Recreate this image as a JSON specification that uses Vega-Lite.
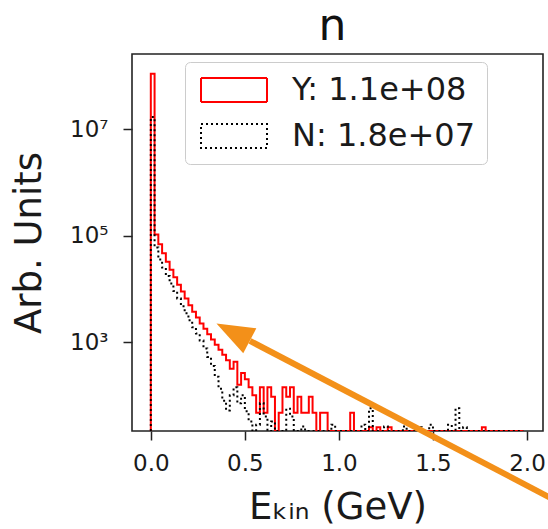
{
"$schema": "https://vega.github.io/schema/vega-lite/v6.json",
"width": 411, "height": 377,
"autosize": {"type": "none"},
"padding": {"left": 132, "top": 54, "right": 5, "bottom": 98},
"background": "white",
"config": {"view": {"stroke": "#222222", "strokeWidth": 1.6}, "font": "DejaVu Sans"},
"title": {"text": "n", "fontSize": 44, "font": "DejaVu Sans", "fontWeight": "normal", "color": "#111111", "baseline": "bottom", "offset": -39, "dx": -5},
"datasets": {
"hist": [
{"s":"Y","e":0,"v":0},{"s":"Y","e":0,"v":110000000},{"s":"Y","e":0.02,"v":105000},{"s":"Y","e":0.04,"v":69000},{"s":"Y","e":0.06,"v":46800},{"s":"Y","e":0.08,"v":32400},{"s":"Y","e":0.1,"v":22900},{"s":"Y","e":0.12,"v":16600},{"s":"Y","e":0.14,"v":12000},{"s":"Y","e":0.16,"v":8900},{"s":"Y","e":0.18,"v":6600},{"s":"Y","e":0.2,"v":4900},{"s":"Y","e":0.22,"v":3700},{"s":"Y","e":0.24,"v":2900},{"s":"Y","e":0.26,"v":2240},{"s":"Y","e":0.28,"v":1780},{"s":"Y","e":0.3,"v":1410},{"s":"Y","e":0.32,"v":1120},{"s":"Y","e":0.34,"v":890},{"s":"Y","e":0.36,"v":720},{"s":"Y","e":0.38,"v":575},{"s":"Y","e":0.4,"v":457},{"s":"Y","e":0.42,"v":316},{"s":"Y","e":0.44,"v":427},{"s":"Y","e":0.46,"v":158},{"s":"Y","e":0.48,"v":263},{"s":"Y","e":0.5,"v":200},{"s":"Y","e":0.52,"v":141},{"s":"Y","e":0.54,"v":100},{"s":"Y","e":0.56,"v":47},{"s":"Y","e":0.58,"v":141},{"s":"Y","e":0.6,"v":47},{"s":"Y","e":0.62,"v":141},{"s":"Y","e":0.64,"v":94},{"s":"Y","e":0.66,"v":0},{"s":"Y","e":0.68,"v":47},{"s":"Y","e":0.7,"v":141},{"s":"Y","e":0.72,"v":94},{"s":"Y","e":0.74,"v":141},{"s":"Y","e":0.76,"v":47},{"s":"Y","e":0.78,"v":94},{"s":"Y","e":0.8,"v":47},{"s":"Y","e":0.82,"v":47},{"s":"Y","e":0.84,"v":94},{"s":"Y","e":0.86,"v":47},{"s":"Y","e":0.88,"v":0},{"s":"Y","e":0.9,"v":47},{"s":"Y","e":0.92,"v":47},{"s":"Y","e":0.94,"v":0},{"s":"Y","e":0.96,"v":0},{"s":"Y","e":0.98,"v":0},{"s":"Y","e":1.0,"v":0},{"s":"Y","e":1.02,"v":0},{"s":"Y","e":1.04,"v":0},{"s":"Y","e":1.06,"v":47},{"s":"Y","e":1.08,"v":0},{"s":"Y","e":1.1,"v":0},{"s":"Y","e":1.12,"v":0},{"s":"Y","e":1.14,"v":0},{"s":"Y","e":1.16,"v":25},{"s":"Y","e":1.18,"v":0},{"s":"Y","e":1.2,"v":25},{"s":"Y","e":1.22,"v":0},{"s":"Y","e":1.24,"v":0},{"s":"Y","e":1.26,"v":25},{"s":"Y","e":1.28,"v":0},{"s":"Y","e":1.3,"v":0},{"s":"Y","e":1.32,"v":0},{"s":"Y","e":1.34,"v":0},{"s":"Y","e":1.36,"v":0},{"s":"Y","e":1.38,"v":0},{"s":"Y","e":1.4,"v":0},{"s":"Y","e":1.42,"v":0},{"s":"Y","e":1.44,"v":0},{"s":"Y","e":1.46,"v":0},{"s":"Y","e":1.48,"v":0},{"s":"Y","e":1.5,"v":0},{"s":"Y","e":1.52,"v":0},{"s":"Y","e":1.54,"v":0},{"s":"Y","e":1.56,"v":0},{"s":"Y","e":1.58,"v":0},{"s":"Y","e":1.6,"v":0},{"s":"Y","e":1.62,"v":0},{"s":"Y","e":1.64,"v":0},{"s":"Y","e":1.66,"v":0},{"s":"Y","e":1.68,"v":0},{"s":"Y","e":1.7,"v":0},{"s":"Y","e":1.72,"v":0},{"s":"Y","e":1.74,"v":0},{"s":"Y","e":1.76,"v":25},{"s":"Y","e":1.78,"v":0},{"s":"Y","e":1.8,"v":0},{"s":"Y","e":1.82,"v":0},{"s":"Y","e":1.84,"v":0},{"s":"Y","e":1.86,"v":0},{"s":"Y","e":1.88,"v":0},{"s":"Y","e":1.9,"v":0},{"s":"Y","e":1.92,"v":0},{"s":"Y","e":1.94,"v":0},{"s":"Y","e":1.96,"v":0},{"s":"Y","e":1.98,"v":0},
{"s":"N","e":0,"v":0},{"s":"N","e":0,"v":17000000},{"s":"N","e":0.02,"v":60000},{"s":"N","e":0.04,"v":35500},{"s":"N","e":0.06,"v":25100},{"s":"N","e":0.08,"v":17400},{"s":"N","e":0.1,"v":12600},{"s":"N","e":0.12,"v":9100},{"s":"N","e":0.14,"v":6600},{"s":"N","e":0.16,"v":4700},{"s":"N","e":0.18,"v":3470},{"s":"N","e":0.2,"v":2570},{"s":"N","e":0.22,"v":1900},{"s":"N","e":0.24,"v":1450},{"s":"N","e":0.26,"v":1070},{"s":"N","e":0.28,"v":760},{"s":"N","e":0.3,"v":525},{"s":"N","e":0.32,"v":355},{"s":"N","e":0.34,"v":224},{"s":"N","e":0.36,"v":132},{"s":"N","e":0.38,"v":79},{"s":"N","e":0.4,"v":52},{"s":"N","e":0.42,"v":100},{"s":"N","e":0.44,"v":141},{"s":"N","e":0.46,"v":71},{"s":"N","e":0.48,"v":100},{"s":"N","e":0.5,"v":50},{"s":"N","e":0.52,"v":32},{"s":"N","e":0.54,"v":0},{"s":"N","e":0.56,"v":28},{"s":"N","e":0.58,"v":71},{"s":"N","e":0.6,"v":40},{"s":"N","e":0.62,"v":0},{"s":"N","e":0.64,"v":32},{"s":"N","e":0.66,"v":0},{"s":"N","e":0.68,"v":0},{"s":"N","e":0.7,"v":0},{"s":"N","e":0.72,"v":56},{"s":"N","e":0.74,"v":40},{"s":"N","e":0.76,"v":0},{"s":"N","e":0.78,"v":0},{"s":"N","e":0.8,"v":26},{"s":"N","e":0.82,"v":0},{"s":"N","e":0.84,"v":0},{"s":"N","e":0.86,"v":0},{"s":"N","e":0.88,"v":0},{"s":"N","e":0.9,"v":0},{"s":"N","e":0.92,"v":0},{"s":"N","e":0.94,"v":0},{"s":"N","e":0.96,"v":28},{"s":"N","e":0.98,"v":0},{"s":"N","e":1.0,"v":0},{"s":"N","e":1.02,"v":0},{"s":"N","e":1.04,"v":0},{"s":"N","e":1.06,"v":0},{"s":"N","e":1.08,"v":0},{"s":"N","e":1.1,"v":0},{"s":"N","e":1.12,"v":28},{"s":"N","e":1.14,"v":0},{"s":"N","e":1.16,"v":57},{"s":"N","e":1.18,"v":0},{"s":"N","e":1.2,"v":0},{"s":"N","e":1.22,"v":0},{"s":"N","e":1.24,"v":26},{"s":"N","e":1.26,"v":0},{"s":"N","e":1.28,"v":0},{"s":"N","e":1.3,"v":0},{"s":"N","e":1.32,"v":0},{"s":"N","e":1.34,"v":26},{"s":"N","e":1.36,"v":0},{"s":"N","e":1.38,"v":0},{"s":"N","e":1.4,"v":0},{"s":"N","e":1.42,"v":25},{"s":"N","e":1.44,"v":0},{"s":"N","e":1.46,"v":0},{"s":"N","e":1.48,"v":28},{"s":"N","e":1.5,"v":0},{"s":"N","e":1.52,"v":0},{"s":"N","e":1.54,"v":0},{"s":"N","e":1.56,"v":0},{"s":"N","e":1.58,"v":28},{"s":"N","e":1.6,"v":0},{"s":"N","e":1.62,"v":57},{"s":"N","e":1.64,"v":0},{"s":"N","e":1.66,"v":25},{"s":"N","e":1.68,"v":0},{"s":"N","e":1.7,"v":0},{"s":"N","e":1.72,"v":0},{"s":"N","e":1.74,"v":0},{"s":"N","e":1.76,"v":0},{"s":"N","e":1.78,"v":0},{"s":"N","e":1.8,"v":0},{"s":"N","e":1.82,"v":0},{"s":"N","e":1.84,"v":0},{"s":"N","e":1.86,"v":0},{"s":"N","e":1.88,"v":0},{"s":"N","e":1.9,"v":0},{"s":"N","e":1.92,"v":0},{"s":"N","e":1.94,"v":0},{"s":"N","e":1.96,"v":0},{"s":"N","e":1.98,"v":0}
],
"arrow": [{"x": 0.527, "y": 1053, "x2": 2.176, "y2": 0.948}],
"head": [{"x": 0.349, "y": 2245}]
},
"layer": [
{
"data": {"name": "hist"},
"mark": {"type": "line", "interpolate": "step-after", "clip": true, "invalid": null, "strokeWidth": 2},
"encoding": {
"x": {"field": "e", "type": "quantitative", "scale": {"domain": [-0.1, 2.085], "nice": false, "zero": false},
"axis": {"values": [0, 0.5, 1, 1.5, 2], "format": ".1f", "labelFont": "DejaVu Sans", "labelFontSize": 23, "labelColor": "#1a1a1a", "tickSize": 9, "tickWidth": 1.5, "tickColor": "#222222", "domain": false, "grid": false, "labelPadding": 12, "title": "Eₖᵢₙ (GeV)", "titleFont": "DejaVu Sans", "titleFontSize": 37, "titleFontWeight": "normal", "titleColor": "#1a1a1a", "titlePadding": 14}},
"y": {"field": "v", "type": "quantitative", "scale": {"type": "log", "domain": [21.3, 260000000], "nice": false, "clamp": true},
"axis": {"values": [1000, 100000, 10000000], "labelExpr": "datum.value == 10000000 ? '10⁷' : datum.value == 100000 ? '10⁵' : '10³'", "labelFont": "DejaVu Sans", "labelFontSize": 23, "labelColor": "#1a1a1a", "tickSize": 9, "tickWidth": 1.5, "tickColor": "#222222", "domain": false, "grid": false, "labelPadding": 15, "title": "Arb. Units", "titleFont": "DejaVu Sans", "titleFontSize": 37, "titleFontWeight": "normal", "titleColor": "#1a1a1a", "titlePadding": 21}},
"color": {"field": "s", "type": "nominal", "scale": {"domain": ["Y", "N"], "range": ["#ff0000", "#000000"]},
"legend": {"title": null, "orient": "none", "legendX": 53, "legendY": 8, "symbolType": "M-1,-1H4.5V1H-1Z", "symbolSize": 576, "symbolStrokeWidth": 2, "symbolFillColor": "transparent", "labelFont": "DejaVu Sans", "labelFontSize": 32, "labelColor": "#1a1a1a", "labelOffset": 63, "labelLimit": 400, "rowPadding": 14, "padding": 12, "strokeColor": "#cccccc", "fillColor": "rgba(255,255,255,0.85)", "cornerRadius": 5,
"labelExpr": "datum.label == 'Y' ? 'Y: 1.1e+08' : 'N: 1.8e+07'",
"encode": {"symbols": {"update": {"strokeDash": {"signal": "datum.value == 'N' ? [2,3] : []"}, "fill": {"value": "transparent"}}}}}},
"strokeDash": {"field": "s", "type": "nominal", "scale": {"domain": ["Y", "N"], "range": [[1, 0], [2, 3]]}, "legend": null}
}
},
{
"layer": [
{
"data": {"name": "arrow"},
"mark": {"type": "rule", "color": "#f39019", "strokeWidth": 6, "strokeCap": "butt"},
"encoding": {
"x": {"field": "x", "type": "quantitative", "scale": {"domain": [-0.1, 2.085], "nice": false, "zero": false}},
"y": {"field": "y", "type": "quantitative", "scale": {"type": "log", "domain": [21.3, 260000000], "nice": false}, "axis": null},
"x2": {"field": "x2"},
"y2": {"field": "y2"}
}
},
{
"data": {"name": "head"},
"mark": {"type": "point", "shape": "M0,0L-0.75,2L0.75,2Z", "filled": true, "size": 1414, "angle": 297.6, "color": "#f39019", "opacity": 1, "strokeWidth": 0},
"encoding": {
"x": {"field": "x", "type": "quantitative", "scale": {"domain": [-0.1, 2.085], "nice": false, "zero": false}},
"y": {"field": "y", "type": "quantitative", "scale": {"type": "log", "domain": [21.3, 260000000], "nice": false}, "axis": null}
}
}
]
}
],
"resolve": {"scale": {"y": "independent"}}
}
